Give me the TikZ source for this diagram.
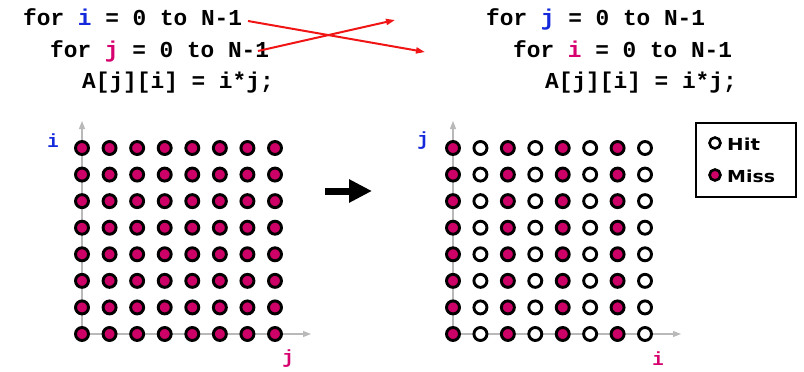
\documentclass[tikz,border=0pt]{standalone}
\usepackage{fontspec}
\setmonofont{Liberation Mono}
\newfontfamily\legfont{DejaVu Sans}
\usetikzlibrary{arrows.meta}
\definecolor{dotred}{RGB}{204,0,102}
\definecolor{iblue}{RGB}{20,40,220}
\definecolor{jmag}{RGB}{214,0,110}
\definecolor{axgray}{RGB}{185,185,185}
\definecolor{arrred}{RGB}{240,20,20}
\begin{document}
\begin{tikzpicture}[x=1pt,y=-1pt,
  code/.style={font=\ttfamily\bfseries\fontsize{22.8}{24}\selectfont, anchor=base west, inner sep=0pt},
  axlab/.style={font=\ttfamily\bfseries\fontsize{19}{20}\selectfont, inner sep=0pt},
  miss/.style={circle, draw=black, line width=2.9pt, fill=dotred, minimum size=13pt, inner sep=0pt},
  hit/.style={miss, fill=white},
  lmiss/.style={miss, minimum size=11pt, line width=2.6pt},
  lhit/.style={lmiss, fill=white},
  axisline/.style={axgray, line width=1.3pt, -{Triangle[length=8pt,width=6pt]}},
  redarr/.style={arrred, line width=2pt, -{Triangle[length=9pt,width=6pt]}},
  bigarr/.style={black, line width=7pt, -{Triangle[length=23pt,width=22pt]}},
  legtext/.style={font=\legfont\bfseries\fontsize{16.5}{18}\selectfont, anchor=west, inner sep=0pt}
]
\useasboundingbox (0,0) rectangle (804,372);

% code, left
\node[code] (l1) at (23,25) {for {\color{iblue}i} = 0 to N-1};
\node[code] (l2) at (50,57) {for {\color{jmag}j} = 0 to N-1};
\node[code] (l3) at (82,88) {A[j][i] = i*j;};
% code, right
\node[code] (r1) at (486,25) {for {\color{iblue}j} = 0 to N-1};
\node[code] (r2) at (513,57) {for {\color{jmag}i} = 0 to N-1};
\node[code] (r3) at (545,88) {A[j][i] = i*j;};

% red swap arrows
\coordinate (aS) at (248,21);
\coordinate (aE) at (425,52);
\coordinate (bS) at (258,51);
\coordinate (bE) at (395,20);
\draw[redarr] (aS) -- (aE);
\draw[redarr] (bS) -- (bE);

% axes, left
\coordinate (Lo) at (82,334);
\coordinate (Ly) at (82,121);
\coordinate (Lx) at (311,334);
\draw[axisline] (Lo) -- (Ly);
\draw[axisline] (Lo) -- (Lx);
% axes, right
\coordinate (Ro) at (453,334);
\coordinate (Ry) at (453,121);
\coordinate (Rx) at (681,334);
\draw[axisline] (Ro) -- (Ry);
\draw[axisline] (Ro) -- (Rx);

% dots, left: all misses
\foreach \c in {0,...,7}
  \foreach \r in {0,...,7}
    \node[miss] (L-\c-\r) at ({82+\c*27.57},{148+\r*26.57}) {};

% dots, right: even columns miss, odd columns hit
\foreach \c in {0,...,7}
  \foreach \r in {0,...,7} {
    \pgfmathparse{int(mod(\c,2))}
    \ifnum\pgfmathresult=0
      \node[miss] (R-\c-\r) at ({453+\c*27.43},{148+\r*26.57}) {};
    \else
      \node[hit] (R-\c-\r) at ({453+\c*27.43},{148+\r*26.57}) {};
    \fi
  }

% axis labels
\node[axlab, text=iblue] (Li) at (53,141) {i};
\node[axlab, text=jmag] (Lj) at (288,359) {j};
\node[axlab, text=iblue] (Rj) at (423,141) {j};
\node[axlab, text=jmag] (Ri) at (658,359) {i};

% big black arrow
\coordinate (bgS) at (325,191);
\coordinate (bgE) at (372,191);
\draw[bigarr] (bgS) -- (bgE);

% legend
\node[draw=black, line width=2pt, minimum width=100pt, minimum height=74pt, inner sep=0pt] (leg) at (746,160) {};
\node[lhit] (hitdot) at (715,143) {};
\node[lmiss] (missdot) at (715,175) {};
\node[legtext] (hittxt) at (727,144) {\scalebox{1.2}[1]{Hit}};
\node[legtext] (misstxt) at (727,176) {\scalebox{1.15}[1]{Miss}};
\end{tikzpicture}
\end{document}
